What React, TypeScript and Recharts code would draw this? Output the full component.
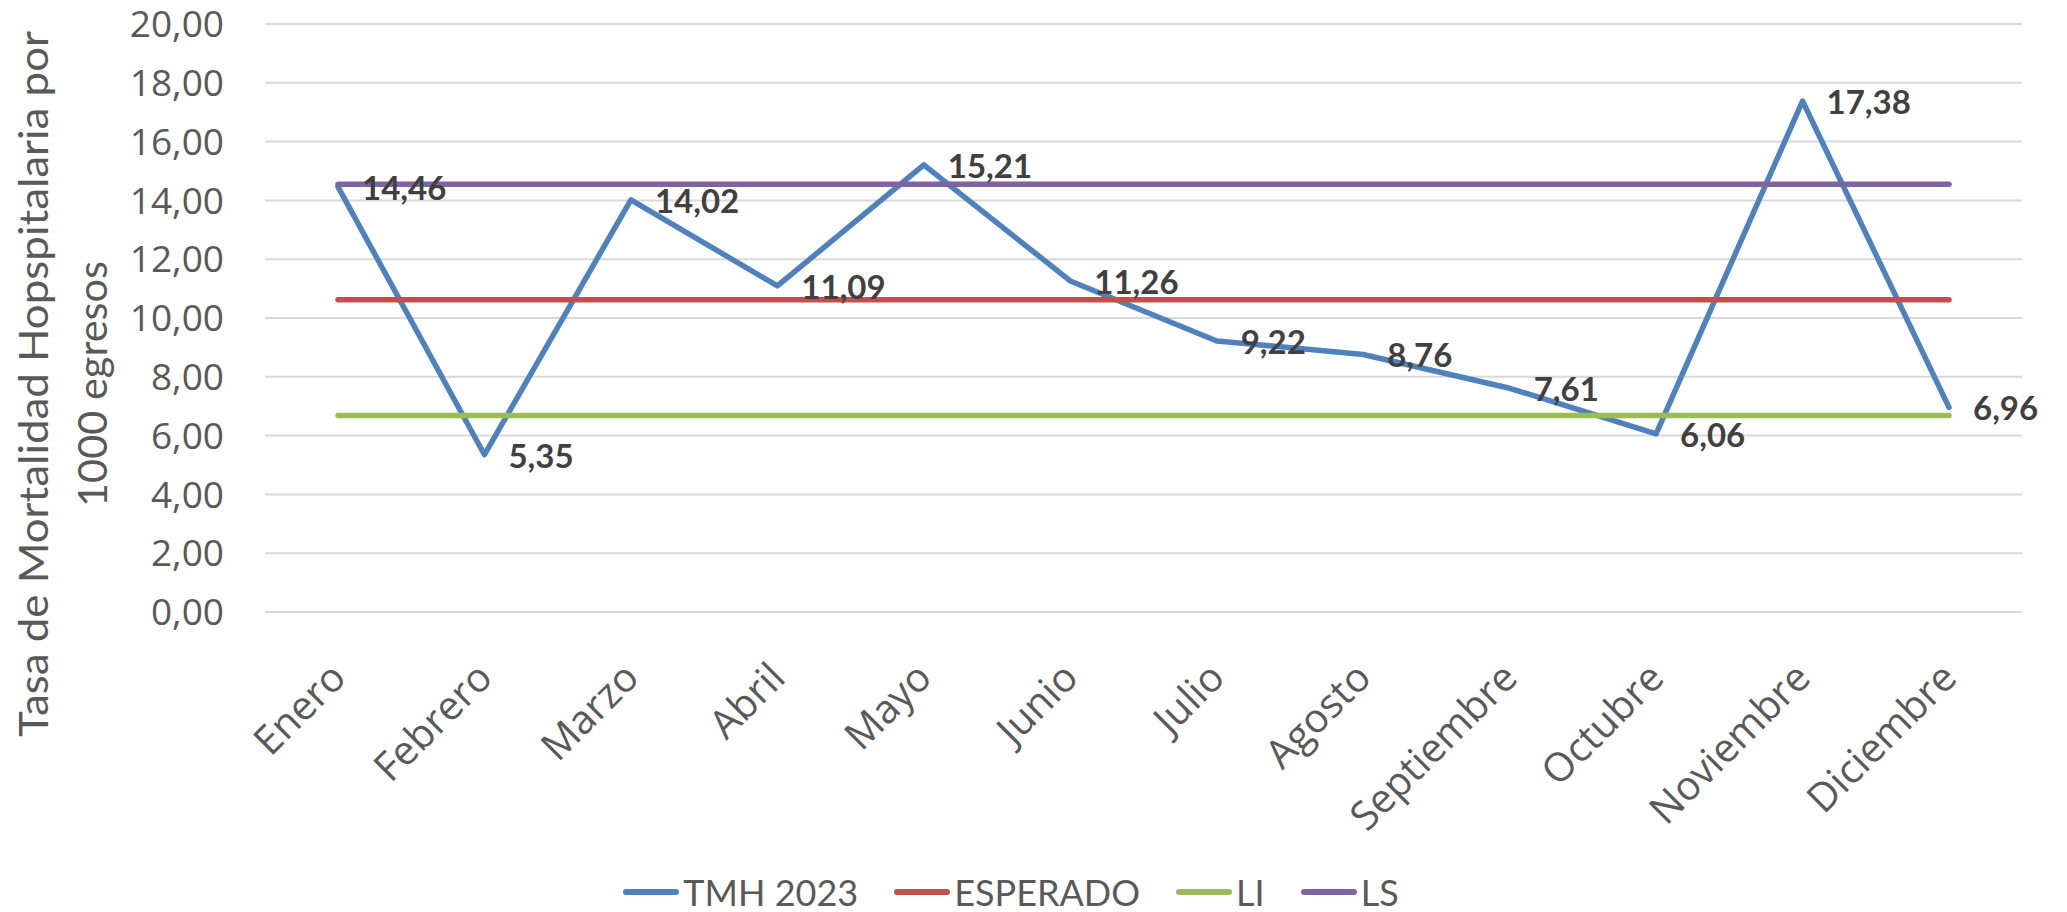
import React from 'react';
import { LineChart, Line, XAxis, YAxis, CartesianGrid, Legend, LabelList } from 'recharts';

document.body.style.margin = '0';

const months = [
  'Enero', 'Febrero', 'Marzo', 'Abril', 'Mayo', 'Junio',
  'Julio', 'Agosto', 'Septiembre', 'Octubre', 'Noviembre', 'Diciembre',
];
const tmh2023 = [14.46, 5.35, 14.02, 11.09, 15.21, 11.26, 9.22, 8.76, 7.61, 6.06, 17.38, 6.96];
const esperado = [10.62, 10.62, 10.62, 10.62, 10.62, 10.62, 10.62, 10.62, 10.62, 10.62, 10.62, 10.62];
const limiteInferior = [6.68, 6.68, 6.68, 6.68, 6.68, 6.68, 6.68, 6.68, 6.68, 6.68, 6.68, 6.68];
const limiteSuperior = [14.55, 14.55, 14.55, 14.55, 14.55, 14.55, 14.55, 14.55, 14.55, 14.55, 14.55, 14.55];
const yTicks = [0, 2, 4, 6, 8, 10, 12, 14, 16, 18, 20];

const series = [
  { key: 'tmh', name: 'TMH 2023', color: '#4F81BD' },
  { key: 'esperado', name: 'ESPERADO', color: '#C0504D' },
  { key: 'li', name: 'LI', color: '#9BBB59' },
  { key: 'ls', name: 'LS', color: '#8064A2' },
];

const data = months.map((month, i) => ({
  month,
  tmh: tmh2023[i],
  esperado: esperado[i],
  li: limiteInferior[i],
  ls: limiteSuperior[i],
}));

const fmt = (v: number) => v.toFixed(2).replace('.', ',');

const TEXT = '#595959';

const XTick = ({ x, y, payload }: any) => (
  <text
    x={x + 10}
    y={y + 68}
    textAnchor="end"
    transform={`rotate(-45, ${x + 10}, ${y + 68})`}
    fontFamily="Open Sans"
    fontSize={40}
    fill={TEXT}
  >
    {payload.value}
  </text>
);

// two-line rotated axis title, stretched a bit like the original
const YTitle = () => (
  <g fontFamily="Lato" fontSize={40} fill={TEXT}>
    <text
      transform="translate(48, 384) rotate(-90)"
      textAnchor="middle"
      textLength={706}
      lengthAdjust="spacingAndGlyphs"
    >
      Tasa de Mortalidad Hopspitalaria por
    </text>
    <text
      transform="translate(107, 384) rotate(-90)"
      textAnchor="middle"
      textLength={246}
      lengthAdjust="spacingAndGlyphs"
    >
      1000 egresos
    </text>
  </g>
);

const ValueLabel = (props: any) => {
  const { x, y, value } = props;
  return (
    <text
      x={x + 24}
      y={y}
      dominantBaseline="central"
      fontFamily="Lato"
      fontWeight={700}
      fontSize={33}
      fill="#404040"
    >
      {fmt(value)}
    </text>
  );
};

const LegendContent = () => (
  <div
    style={{
      display: 'flex',
      justifyContent: 'center',
      alignItems: 'center',
      gap: 36,
      height: 40,
      fontFamily: 'Lato',
      fontSize: 36,
      color: TEXT,
    }}
  >
    {series.map((s) => (
      <div key={s.key} style={{ display: 'flex', alignItems: 'center' }}>
        <svg width={56} height={10}>
          <line x1={3} y1={5} x2={53} y2={5} stroke={s.color} strokeWidth={6} strokeLinecap="round" />
        </svg>
        <span style={{ marginLeft: 4 }}>{s.name}</span>
      </div>
    ))}
  </div>
);

export default function App() {
  return (
    <LineChart
      width={2067}
      height={912}
      data={data}
      margin={{ top: 24, right: 45, left: 0, bottom: 0 }}
    >
      <CartesianGrid vertical={false} stroke="#D9D9D9" strokeWidth={2} />
      <XAxis
        dataKey="month"
        interval={0}
        axisLine={false}
        tickLine={false}
        tickSize={0}
        tickMargin={0}
        height={260}
        padding={{ left: 73, right: 73 }}
        tick={<XTick />}
      />
      <YAxis
        type="number"
        domain={[0, 20]}
        ticks={yTicks}
        tickFormatter={fmt}
        axisLine={false}
        tickLine={false}
        tickSize={0}
        tickMargin={41}
        width={265}
        tick={{ fill: TEXT, fontSize: 37, fontFamily: 'Open Sans' }}
        label={{ content: () => <YTitle /> }}
      />
      <Legend verticalAlign="bottom" height={40} content={<LegendContent />} />
      {series.map((s) => (
        <Line
          key={s.key}
          type="linear"
          dataKey={s.key}
          name={s.name}
          stroke={s.color}
          strokeWidth={5.5}
          strokeLinecap="round"
          strokeLinejoin="round"
          dot={false}
          activeDot={false}
          isAnimationActive={false}
        >
          {s.key === 'tmh' && <LabelList dataKey="tmh" content={<ValueLabel />} />}
        </Line>
      ))}
    </LineChart>
  );
}
